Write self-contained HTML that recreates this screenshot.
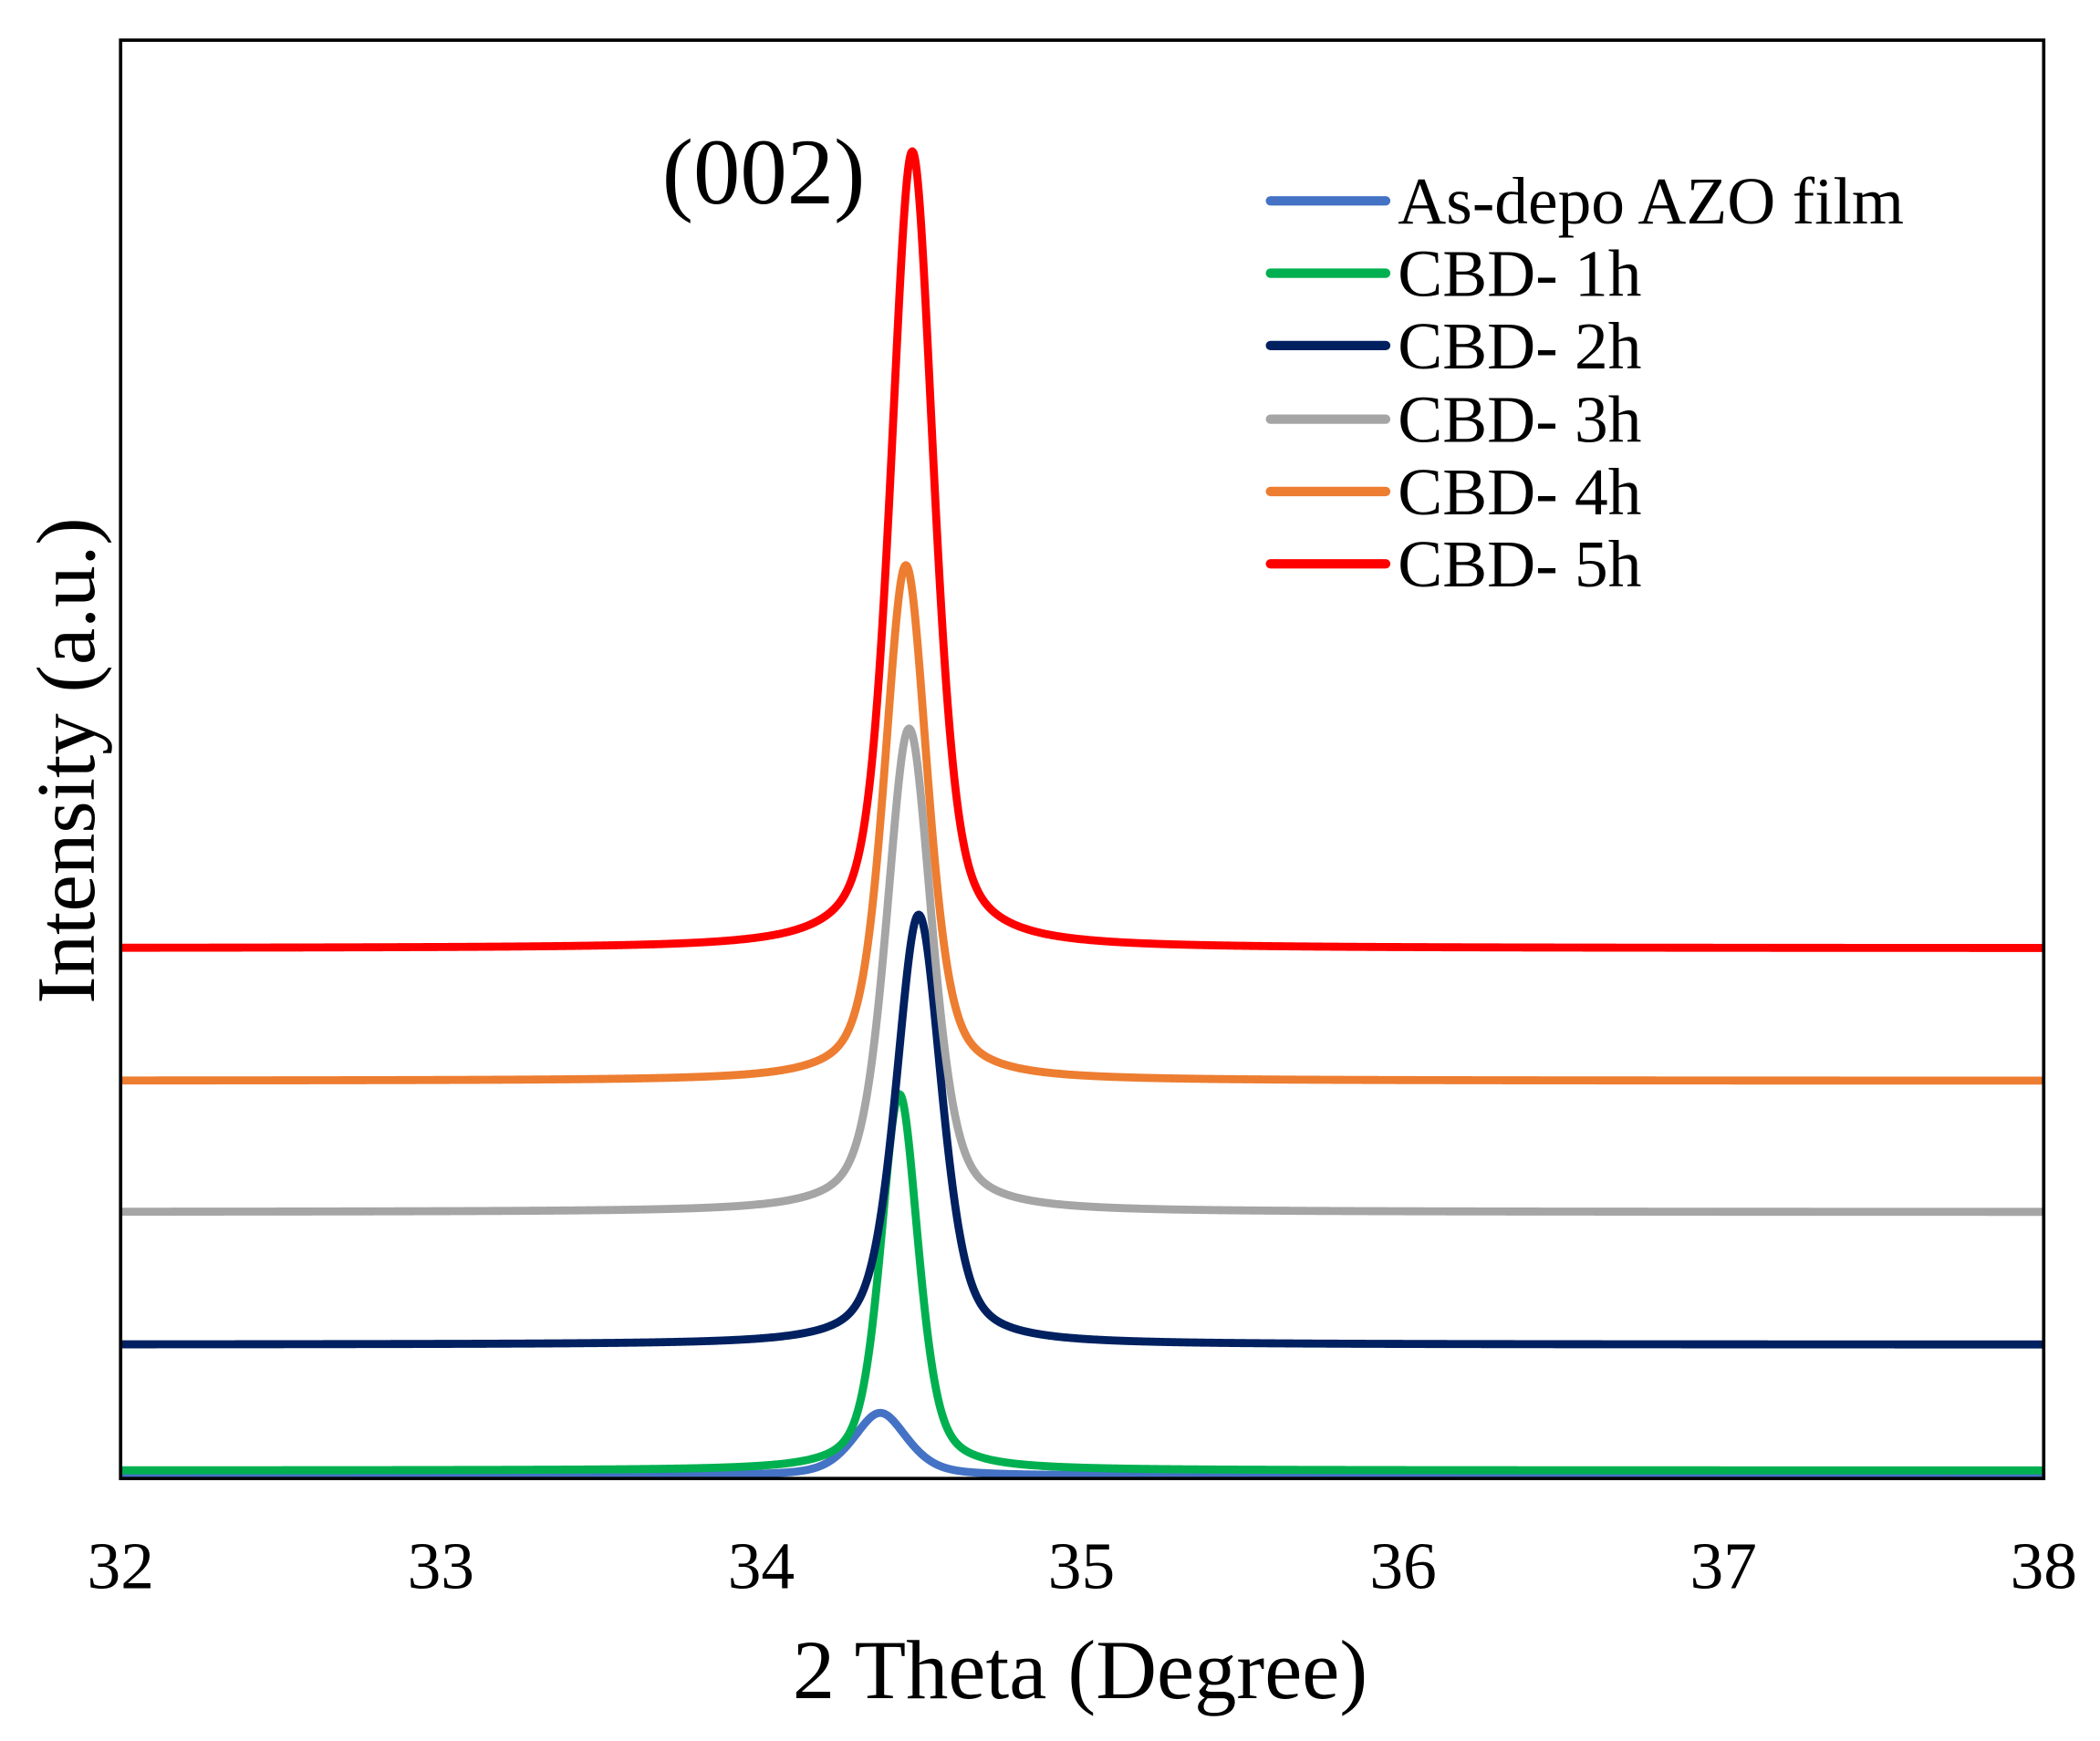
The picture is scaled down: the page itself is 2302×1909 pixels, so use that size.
<!DOCTYPE html>
<html><head><meta charset="utf-8"><style>
html,body{margin:0;padding:0;background:#fff;}
svg{display:block;}
text{font-family:"Liberation Serif",serif;fill:#000;}
</style></head><body>
<svg id="s" width="2302" height="1909" viewBox="0 0 1567 1300" preserveAspectRatio="none" xmlns="http://www.w3.org/2000/svg">
<rect x="0" y="0" width="1567" height="1300" fill="#fff"/>
<g id="curves"></g>
<rect x="90" y="30" width="1435" height="1074" fill="none" stroke="#000" stroke-width="2.5"/>
<g font-size="50" text-anchor="middle">
<text x="90" y="1186">32</text><text x="329" y="1186">33</text><text x="568" y="1186">34</text><text x="807" y="1186">35</text><text x="1047" y="1186">36</text><text x="1286" y="1186">37</text><text x="1525" y="1186">38</text>
</g>
<text x="806" y="1268" font-size="63" text-anchor="middle">2 Theta (Degree)</text>
<text transform="translate(70,568) rotate(-90)" font-size="62" text-anchor="middle">Intensity (a.u.)</text>
<text x="494" y="152" font-size="70">(002)</text>
<g stroke-width="7" stroke-linecap="round">
<line x1="948" y1="150" x2="1034" y2="150" stroke="#4472C4"/>
<line x1="948" y1="204" x2="1034" y2="204" stroke="#00B050"/>
<line x1="948" y1="258" x2="1034" y2="258" stroke="#002060"/>
<line x1="948" y1="313" x2="1034" y2="313" stroke="#A5A5A5"/>
<line x1="948" y1="367" x2="1034" y2="367" stroke="#ED7D31"/>
<line x1="948" y1="421" x2="1034" y2="421" stroke="#FF0000"/>
</g>
<g font-size="50">
<text x="1043" y="167">As-depo AZO film</text>
<text x="1043" y="221">CBD- 1h</text>
<text x="1043" y="275">CBD- 2h</text>
<text x="1043" y="330">CBD- 3h</text>
<text x="1043" y="384">CBD- 4h</text>
<text x="1043" y="438">CBD- 5h</text>
</g>
</svg>
<script>
var series=[
 {c:"#4472C4",b:1102,p:1055,x0:34.37,w:0.2},
 {c:"#00B050",b:1098,p:817,x0:34.43,w:0.14},
 {c:"#002060",b:1004,p:683,x0:34.49,w:0.17},
 {c:"#A5A5A5",b:905,p:544,x0:34.46,w:0.17},
 {c:"#ED7D31",b:807,p:422,x0:34.45,w:0.16},
 {c:"#FF0000",b:708,p:113,x0:34.47,w:0.16}
];
var g=document.getElementById('curves'),ns="http://www.w3.org/2000/svg";
series.forEach(function(s){
 var d="",h=s.b-s.p,eta=0.5;
 for(var i=0;i<=1800;i++){
  var x=32+6*i/1800;
  var t=(x-s.x0)/(s.w/2);
  var v=eta/(1+t*t)+(1-eta)*Math.exp(-0.693*t*t);
  var X=90+(x-32)*239.17, Y=s.b-h*v;
  d+=(i?"L":"M")+X.toFixed(2)+" "+Y.toFixed(2);
 }
 var p=document.createElementNS(ns,"path");
 p.setAttribute("d",d);p.setAttribute("fill","none");p.setAttribute("stroke",s.c);
 p.setAttribute("stroke-width","6");p.setAttribute("stroke-linejoin","round");
 g.appendChild(p);
});
</script>
</body></html>
